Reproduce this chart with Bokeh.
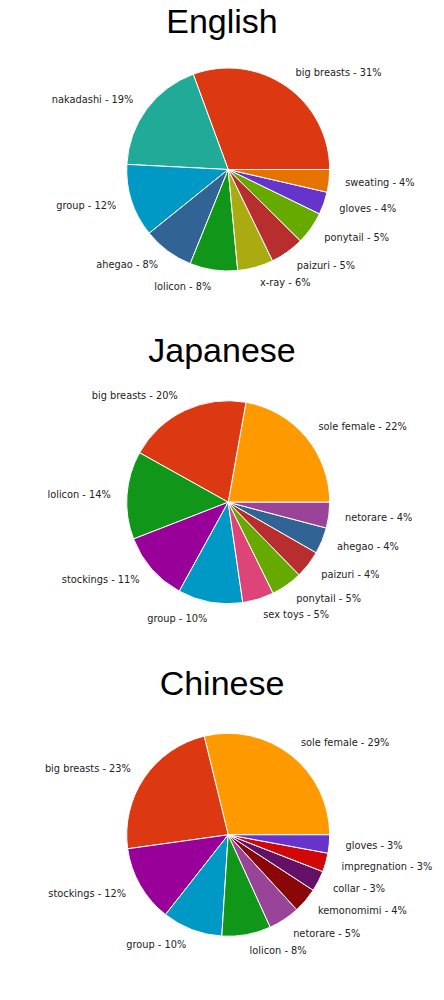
import math
from bokeh.plotting import figure
from bokeh.layouts import column
from bokeh.models import ColumnDataSource, Label, Range1d
from bokeh.core.properties import value
from bokeh.embed import file_html
from bokeh.resources import INLINE

# ---- data (percent shares, counter-clockwise from 3 o'clock) ----
en_names = ["big breasts", "nakadashi", "group", "ahegao", "lolicon", "x-ray",
            "paizuri", "ponytail", "gloves", "sweating"]
en_values = [30.6, 18.6, 11.6, 8.1, 7.6, 5.7, 5.4, 5.2, 3.6, 3.6]
en_colors = ["#DC3912", "#22AA99", "#0099C6", "#316395", "#109618", "#AAAA11",
             "#B82E2E", "#66AA00", "#6633CC", "#E67300"]

jp_names = ["sole female", "big breasts", "lolicon", "stockings", "group", "sex toys",
            "ponytail", "paizuri", "ahegao", "netorare"]
jp_values = [22.2, 19.7, 14.0, 11.1, 10.3, 5.0, 5.0, 4.4, 4.2, 4.1]
jp_colors = ["#FF9900", "#DC3912", "#109618", "#990099", "#0099C6", "#DD4477",
             "#66AA00", "#B82E2E", "#316395", "#994499"]

cn_names = ["sole female", "big breasts", "stockings", "group", "lolicon", "netorare",
            "kemonomimi", "collar", "impregnation", "gloves"]
cn_values = [28.8, 23.4, 12.2, 9.6, 7.8, 5.0, 4.0, 3.3, 3.0, 2.9]
cn_colors = ["#FF9900", "#DC3912", "#990099", "#0099C6", "#109618", "#994499",
             "#8B0707", "#651067", "#D10808", "#6633CC"]

titles = ["English", "Japanese", "Chinese"]

# ---- layout ----
W = 444
R_PX = 101.5          # pie radius in pixels
CX_PX = 227.7         # pie centre from left of figure
LABEL_DIST = 1.16


def pie_fig(title, names, values, colors, h, cy_px, title_top):
    total = float(sum(values))
    starts, ends, mids = [], [], []
    acc = 0.0
    for v in values:
        a0 = acc / total * 2 * math.pi
        acc += v
        a1 = acc / total * 2 * math.pi
        starts.append(a0)
        ends.append(a1)
        mids.append((a0 + a1) / 2)
    src = ColumnDataSource(dict(start=starts, end=ends, color=colors))

    p = figure(width=W, height=h, output_backend="svg", toolbar_location=None,
               min_border=0, outline_line_color=None)
    p.x_range = Range1d(-CX_PX / R_PX, (W - CX_PX) / R_PX)
    p.y_range = Range1d(-(h - cy_px) / R_PX, cy_px / R_PX)
    p.axis.visible = False
    p.grid.visible = False
    p.background_fill_color = "white"
    p.border_fill_color = "white"

    p.wedge(x=0, y=0, radius=1, start_angle="start", end_angle="end",
            fill_color="color", line_color="white", line_width=1, source=src)

    lx = [LABEL_DIST * math.cos(m) for m in mids]
    ly = [LABEL_DIST * math.sin(m) for m in mids]
    texts = [f"{n} - {round(v / total * 100)}%" for n, v in zip(names, values)]
    right = [i for i, x in enumerate(lx) if x >= 0]
    left = [i for i, x in enumerate(lx) if x < 0]
    for idx, align in ((right, "left"), (left, "right")):
        if not idx:
            continue
        s = ColumnDataSource(dict(x=[lx[i] for i in idx], y=[ly[i] for i in idx],
                                  t=[texts[i] for i in idx]))
        p.text(x="x", y="y", text="t", source=s, text_align=align,
               text_baseline="middle", text_font=value("DejaVu Sans"),
               text_font_size="9.8px", text_color="#222222")

    p.add_layout(Label(x=221.5, y=h - title_top, x_units="screen", y_units="screen",
                       text=title, text_align="center", text_baseline="top",
                       text_font="Liberation Sans", text_font_size="34px",
                       text_color="#000000"))
    return p


p1 = pie_fig(titles[0], en_names, en_values, en_colors, 320, 169.0, 1)
p2 = pie_fig(titles[1], jp_names, jp_values, jp_colors, 333, 181.7, 10)
p3 = pie_fig(titles[2], cn_names, cn_values, cn_colors, 347, 181.3, 10)

layout = column(p1, p2, p3, spacing=0)
open("out.html", "w").write(file_html(layout, INLINE))
